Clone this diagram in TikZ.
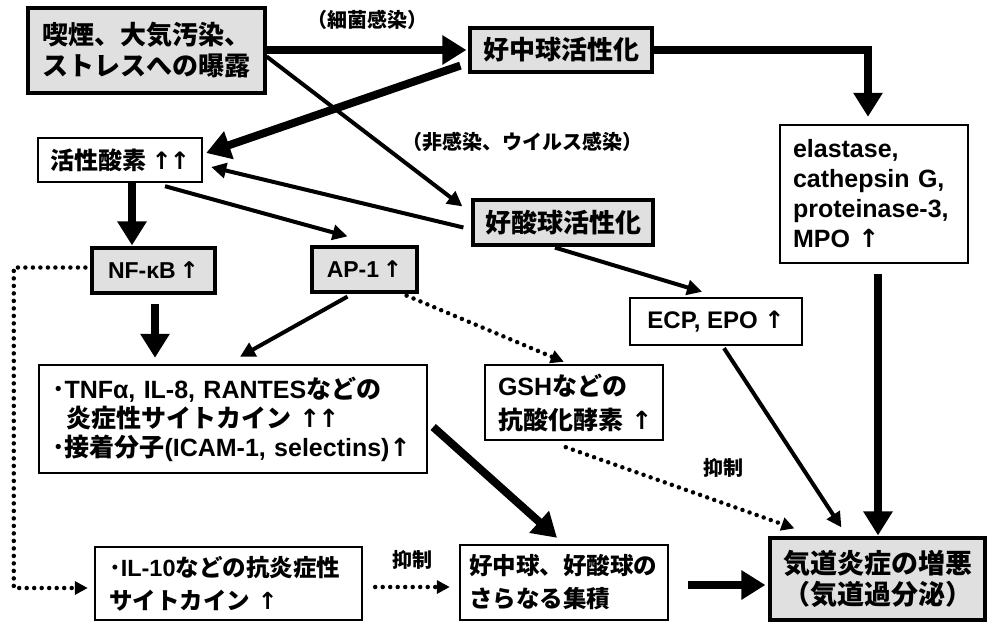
\documentclass[tikz,border=0pt]{standalone}
\usepackage{fontspec}
\setmainfont{Noto Sans CJK JP}
\newfontfamily\latf{Liberation Sans}
\newfontfamily\arrf{DejaVu Sans}
\newcommand\lat[1]{{\latf #1}}
\newcommand\upar{{\arrf\bfseries ↑}}
\usetikzlibrary{arrows.meta,calc}
\tikzset{
 fsz/.style 2 args={font=\bfseries\fontsize{#1}{#2}\selectfont},
 lfsz/.style 2 args={font=\latf\bfseries\fontsize{#1}{#2}\selectfont},
 box/.style={draw, line width=2.4pt, fill=white, inner sep=0pt},
 sbox/.style={box, line width=3.2pt, fill=gray!24},
 thk/.style={line width=8pt, -{Triangle[length=24pt,width=28pt]}},
 med/.style={line width=4pt, -{Triangle[length=15pt,width=15pt]}},
 dotarrow/.style={line width=4.5pt, line cap=round, dash pattern=on 0pt off 7.5pt, -{Triangle[length=13pt,width=13pt]}},
 lbl/.style={fsz={20}{22}, inner sep=0pt},
}
\begin{document}
\begin{tikzpicture}[x=1pt,y=-1pt]
\useasboundingbox (0,0) rectangle (990,624);
% nodes
\node[sbox, minimum width=237pt, minimum height=85pt, align=center, fsz={26}{31}] (expo) at (146.5,50.5) {喫煙、大気汚染、\\ストレスへの曝露};
\node[sbox, minimum width=182pt, minimum height=44pt, fsz={26}{30}] (neut) at (561,50) {好中球活性化};
\node[box, minimum width=164pt, minimum height=44pt, fsz={24}{28}] (ros) at (120,160) {活性酸素 \upar\kern-2pt\upar};
\node[sbox, minimum width=180pt, minimum height=45pt, fsz={26}{30}] (eos) at (563,222.5) {好酸球活性化};
\node[sbox, minimum width=123pt, minimum height=45pt, lfsz={23}{27}] (nfkb) at (153.5,270.5) {NF-κB\,\upar};
\node[sbox, minimum width=105pt, minimum height=45pt, lfsz={23}{27}] (ap1) at (364.5,269.5) {AP-1\,\upar};
\node[box, minimum width=188pt, minimum height=138pt, text width=162pt, inner xsep=13pt, align=left, lfsz={25}{30}] (elast) at (874,194) {elastase,\\cathepsin G,\\proteinase-3,\\MPO \upar};
\node[box, minimum width=172pt, minimum height=47pt, lfsz={24}{28}] (ecp) at (716,321.5) {ECP, EPO \upar};
\node[box, minimum width=388pt, minimum height=108pt, text width=362pt, inner xsep=13pt, align=left, fsz={25}{29}] (tnf) at (233,419) {･\lat{TNFα, IL-8, RANTES}などの\\\hspace*{14pt}炎症性サイトカイン \upar\kern-2pt\upar\\･接着分子\lat{(ICAM-1, selectins)}\upar};
\node[box, minimum width=178pt, minimum height=75pt, text width=166pt, inner xsep=6pt, align=left, fsz={25}{34}] (gsh) at (574,402.5) {\hspace*{7pt}\lat{GSH}などの\\\hspace*{7pt}抗酸化酵素~\upar};
\node[box, minimum width=267pt, minimum height=73pt, text width=239pt, inner xsep=14pt, align=left, fsz={23.5}{33}] (il10) at (228.5,583.5) {･\lat{IL-10}などの抗炎症性\\サイトカイン~\upar};
\node[box, minimum width=208pt, minimum height=75pt, text width=190pt, inner xsep=9pt, align=left, fsz={23.5}{33}] (accum) at (564,582.5) {好中球、好酸球の\\さらなる集積};
\node[sbox, minimum width=215pt, minimum height=82pt, align=center, fsz={27}{31}] (airway) at (877.5,579) {気道炎症の増悪\\（気道過分泌）};
% labels
\node[lbl] (l1) at (367,20) {（細菌感染）};
\node[lbl] (l2) at (522,142) {（非感染、ウイルス感染）};
\node[lbl] (l3) at (723,468) {抑制};
\node[lbl] (l4) at (412,560) {抑制};
% connectors
\draw[med] ($(expo.east)+(0,6)$) -- ($(eos.north west)+(-9,8)$);
\draw[thk] (expo.east |- neut.west) -- ($(neut.west)+(-2,0)$);
\draw[thk] ($(neut.south west)+(-8,-8)$) -- ($(ros.east)+(3,-7)$);
\draw[med] ($(eos.west)+(-8,5)$) -- ($(ros.east)+(8,7)$);
\draw[med] ($(ros.south)+(45,3)$) -- ($(ap1.north)+(-17,-9)$);
\draw[thk] ($(ros.south)+(12,0)$) -- ($(nfkb.north)+(-21.5,-1)$);
\draw[thk] ($(nfkb.south)+(1.5,9)$) -- ($(nfkb.south |- tnf.north)+(1.5,-6)$);
\draw[med] ($(ap1.south)+(-17,3)$) -- ($(tnf.north)+(7,-7)$);
\draw[dotarrow] ($(ap1.south east)+(-12,2)$) -- ($(gsh.north west)+(80,-2)$);
\draw[med] ($(eos.south)+(-8,1)$) -- ($(ecp.north)+(-14,-5)$);
\draw[thk] (neut.east) -| ($(elast.north)+(-6,-7)$);
\draw[thk] ($(elast.south)+(4,10)$) -- ($(airway.north -| elast.south)+(4,-1)$);
\draw[med] ($(ecp.south)+(8,2)$) -- ($(airway.north west)+(73,-9)$);
\draw[dotarrow] ($(gsh.south west)+(82,6)$) -- ($(airway.north west)+(26,-8)$);
\draw[thk] ($(tnf.east)+(5,8)$) -- ($(accum.north)+(-7,-6)$);
\draw[dotarrow] ($(nfkb.west)+(-5,-3)$) -| ($(il10.west)+(-80,4.5)$) -- ($(il10.west)+(-6,4.5)$);
\draw[dotarrow] ($(il10.east)+(12,3.5)$) -- ($(accum.west)+(-9,4.5)$);
\draw[thk] ($(accum.east)+(19,2.5)$) -- ($(airway.west)+(-3,6)$);
\end{tikzpicture}
\end{document}
